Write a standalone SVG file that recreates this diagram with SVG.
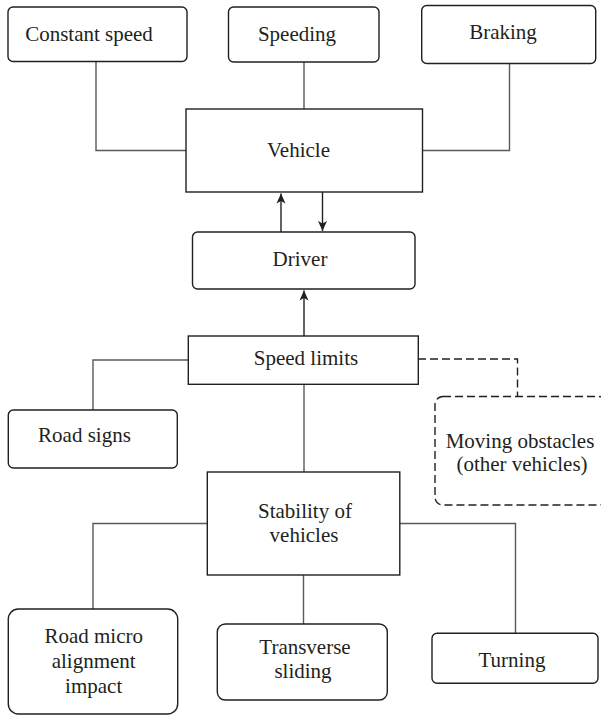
<svg xmlns="http://www.w3.org/2000/svg" width="601" height="716" viewBox="0 0 601 716">
<style>
.box{fill:#fff;stroke:#231f20;stroke-width:1.4}
.dash{fill:#fff;stroke:#231f20;stroke-width:1.4;stroke-dasharray:8,4}
.t{font-family:"Liberation Serif","Times New Roman",serif;font-size:21px;fill:#231f20;text-anchor:middle}
.c{fill:none;stroke:#58595b;stroke-width:1.4}
.cd{fill:none;stroke:#231f20;stroke-width:1.4;stroke-dasharray:8,4}
.a{fill:none;stroke:#231f20;stroke-width:1.4;marker-end:url(#ah)}
</style>
<defs>
<marker id="ah" markerWidth="10" markerHeight="10" refX="10" refY="5" orient="auto" markerUnits="userSpaceOnUse">
<path d="M0,0.5 L10,5 L0,9.5 L2.5,5 Z" fill="#231f20"/>
</marker>
</defs>
<rect width="601" height="716" fill="#fff"/>
<g id="connectors">
<polyline class="c" points="96,61 96,150.5 186,150.5"/>
<line class="c" x1="304" y1="62" x2="304" y2="109"/>
<polyline class="c" points="509.5,63 509.5,150.5 422,150.5"/>
<line class="a" x1="281" y1="232" x2="281" y2="193.5"/>
<line class="a" x1="322.5" y1="192" x2="322.5" y2="231"/>
<line class="a" x1="304" y1="336" x2="304" y2="290.5"/>
<polyline class="c" points="188,360 93,360 93,410"/>
<polyline class="cd" points="418,359 517.5,359 517.5,396"/>
<line class="c" x1="304" y1="384" x2="304" y2="472"/>
<polyline class="c" points="207,523.5 93,523.5 93,609"/>
<line class="c" x1="303.5" y1="575" x2="303.5" y2="624"/>
<polyline class="c" points="400,523.5 515.5,523.5 515.5,633"/>
</g>
<g id="constant-speed">
<rect class="box" x="8" y="7" width="179" height="54.5" rx="5"/>
<text class="t" x="89" y="41">Constant speed</text>
</g>
<g id="speeding">
<rect class="box" x="228.5" y="7" width="150.5" height="55" rx="5"/>
<text class="t" x="297" y="41">Speeding</text>
</g>
<g id="braking">
<rect class="box" x="421.7" y="5.5" width="174" height="58" rx="5"/>
<text class="t" x="503" y="38.5">Braking</text>
</g>
<g id="vehicle">
<rect class="box" x="186" y="109" width="236.5" height="83"/>
<text class="t" x="298.5" y="157">Vehicle</text>
</g>
<g id="driver">
<rect class="box" x="192.5" y="232" width="222.5" height="57" rx="5"/>
<text class="t" x="300" y="266">Driver</text>
</g>
<g id="speed-limits">
<rect class="box" x="188.3" y="336" width="230" height="48.3"/>
<text class="t" x="306" y="365">Speed limits</text>
</g>
<g id="road-signs">
<rect class="box" x="8.3" y="410" width="169" height="58" rx="5"/>
<text class="t" x="84.5" y="442">Road signs</text>
</g>
<g id="moving-obstacles">
<rect class="dash" x="435" y="396.5" width="172" height="108.5" rx="8"/>
<text class="t" x="520" y="447.5">Moving obstacles</text>
<text class="t" x="522" y="471">(other vehicles)</text>
</g>
<g id="stability">
<rect class="box" x="207.3" y="472" width="192.5" height="103"/>
<text class="t" x="305" y="518">Stability of</text>
<text class="t" x="304" y="542">vehicles</text>
</g>
<g id="road-micro">
<rect class="box" x="8.3" y="609" width="169.4" height="105" rx="10"/>
<text class="t" x="93.7" y="643">Road micro</text>
<text class="t" x="93.7" y="667.5">alignment</text>
<text class="t" x="93.7" y="692.5">impact</text>
</g>
<g id="transverse-sliding">
<rect class="box" x="217.3" y="624" width="170" height="76" rx="8"/>
<text class="t" x="305" y="654">Transverse</text>
<text class="t" x="303" y="677.5">sliding</text>
</g>
<g id="turning">
<rect class="box" x="432" y="633.3" width="166" height="50" rx="5"/>
<text class="t" x="512" y="666.5">Turning</text>
</g>
</svg>
